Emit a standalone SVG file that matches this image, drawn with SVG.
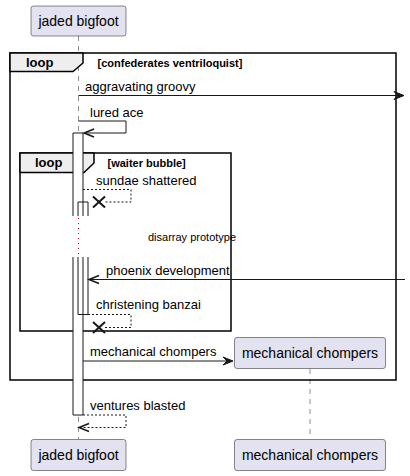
<svg xmlns="http://www.w3.org/2000/svg" width="410" height="476" viewBox="0 0 410 476">
<style>
text{font-family:"Liberation Sans",Arial,sans-serif;fill:#000}
.pbox{fill:#E2E2F0;stroke:#181818;stroke-width:0.5}
.pt{font-size:14px;text-anchor:middle}
.life{stroke:#181818;stroke-width:0.5;stroke-dasharray:5,5;fill:none}
.delay{stroke:#A80036;stroke-width:1;stroke-dasharray:1,4;fill:none}
.frame{fill:none;stroke:#000;stroke-width:1.5}
.tab{fill:#EEEEEE;stroke:#000;stroke-width:1.5}
.ft{font-size:13px;font-weight:bold}
.fc{font-size:11px;font-weight:bold}
.msg{stroke:#181818;stroke-width:1;fill:none}
.dash{stroke:#181818;stroke-width:1;fill:none;stroke-dasharray:2,2}
.mt{font-size:13px}
.head{fill:#181818;stroke:#181818;stroke-width:1}
.open{fill:none;stroke:#181818;stroke-width:1.5}
.x{stroke:#181818;stroke-width:2}
.act{fill:#FFFFFF;stroke:none}
.edge{stroke:#181818;stroke-width:1;fill:none}
</style>

<g id="lifelines">
<path class="life" d="M78.5,36 V216"/>
<path class="life" d="M78.5,257 V439"/>
<path class="delay" d="M78.5,218 V257"/>
<path class="life" d="M310,369 V439"/>
</g>

<g id="loop-outer">
<rect class="frame" x="10" y="53" width="386" height="327"/>
<polygon class="tab" points="10,53 83,53 83,63 73,71.5 10,71.5"/>
<text class="ft" x="26" y="67">loop</text>
<text class="fc" x="97.5" y="67">[confederates ventriloquist]</text>
</g>

<g id="loop-inner">
<rect class="frame" x="20" y="153" width="211" height="178"/>
<polygon class="tab" points="20,153 94,153 94,163 84,172.5 20,172.5"/>
<text class="ft" x="35" y="167">loop</text>
<text class="fc" x="107.5" y="167">[waiter bubble]</text>
</g>

<g id="activations">
<rect class="act" x="73" y="133" width="10" height="83"/>
<path class="edge" d="M73,216 V133 H83 V216"/>
<rect class="act" x="73" y="257" width="10" height="158"/>
<path class="edge" d="M73,257 V415 H83 V257"/>
<path class="edge" d="M78,216 V202 H88 V216"/>
<path class="edge" d="M78,257 V314.5 H88 V257"/>
</g>

<g id="connectors">
<line class="msg" x1="78.5" y1="95.5" x2="401" y2="95.5"/>
<polygon class="head" points="404,95.5 394,91.5 398,95.5 394,99.5"/>
<text class="mt" x="85" y="91">aggravating groovy</text>

<path class="msg" d="M78.5,121 H126 V133 H85"/>
<polyline class="open" points="94,129 84,133 94,137"/>
<text class="mt" x="90" y="117">lured ace</text>

<path class="dash" d="M83,189.5 H131 V202 H105"/>
<line class="x" x1="93" y1="196.5" x2="105" y2="207.5"/>
<line class="x" x1="93" y1="207.5" x2="105" y2="196.5"/>
<text class="mt" x="96" y="185">sundae shattered</text>

<text x="148" y="241" style="font-size:11px">disarray prototype</text>

<line class="msg" x1="405" y1="279.5" x2="90" y2="279.5"/>
<polyline class="open" points="99,275.5 89,279.5 99,283.5"/>
<text class="mt" x="106" y="275">phoenix development</text>

<path class="dash" d="M88,314.5 H131 V327.5 H105"/>
<line class="x" x1="93" y1="322" x2="105" y2="333"/>
<line class="x" x1="93" y1="333" x2="105" y2="322"/>
<text class="mt" x="96" y="309">christening banzai</text>

<line class="msg" x1="83" y1="361" x2="230" y2="361"/>
<polygon class="head" points="233,361 223,357 227,361 223,365"/>
<text class="mt" x="90" y="356">mechanical chompers</text>

<path class="dash" d="M83,415 H126 V427.5 H80"/>
<polyline class="open" points="89,423.5 79,427.5 89,431.5"/>
<text class="mt" x="90" y="410">ventures blasted</text>
</g>

<g id="jaded-bigfoot">
<rect class="pbox" x="31" y="6" width="95" height="30" rx="2.5"/>
<text class="pt" x="78.5" y="26">jaded bigfoot</text>
<rect class="pbox" x="31" y="439.5" width="95" height="31" rx="2.5"/>
<text class="pt" x="78.5" y="460">jaded bigfoot</text>
</g>

<g id="mechanical-chompers">
<rect class="pbox" x="234.5" y="337.5" width="151" height="31" rx="2.5"/>
<text class="pt" x="310" y="358">mechanical chompers</text>
<rect class="pbox" x="234.5" y="439.5" width="151" height="31" rx="2.5"/>
<text class="pt" x="310" y="460">mechanical chompers</text>
</g>
</svg>
